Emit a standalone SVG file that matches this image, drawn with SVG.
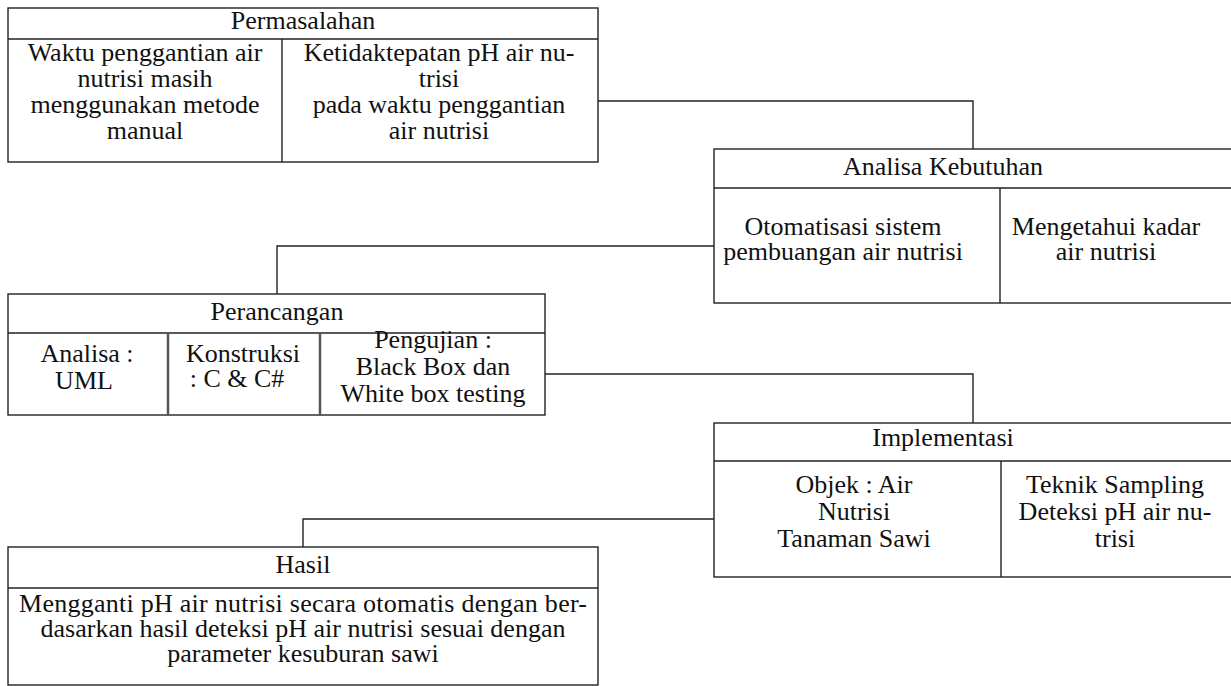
<svg xmlns="http://www.w3.org/2000/svg" width="1231" height="686" viewBox="0 0 1231 686">
<style>
.box{fill:#fff;stroke:#222;stroke-width:1.4}
.ln{stroke:#222;stroke-width:1.4;fill:none}
.div2{stroke:#555;stroke-width:2.5;fill:none}
text{font-family:"Liberation Serif","Times New Roman",serif;font-size:26px;fill:#111;text-anchor:middle}
</style>
<rect width="1231" height="686" fill="#fff"/>
<g id="connectors">
<polyline class="ln" points="598,101 973,101 973,149"/>
<polyline class="ln" points="714,246 277,246 277,294"/>
<polyline class="ln" points="545,374 973,374 973,423"/>
<polyline class="ln" points="714,519 303,519 303,547"/>
</g>
<g id="permasalahan">
<rect class="box" x="8" y="8" width="590" height="154"/>
<line class="ln" x1="8" y1="39" x2="598" y2="39"/>
<line class="ln" x1="282" y1="39" x2="282" y2="162"/>
<text x="303" y="29">Permasalahan</text>
<text x="145" y="61">Waktu penggantian air</text>
<text x="145" y="87">nutrisi masih</text>
<text x="145" y="113">menggunakan metode</text>
<text x="145" y="139">manual</text>
<text x="439" y="61">Ketidaktepatan pH air nu-</text>
<text x="439" y="87">trisi</text>
<text x="439" y="113">pada waktu penggantian</text>
<text x="439" y="139">air nutrisi</text>
</g>
<g id="analisa">
<rect class="box" x="714" y="149" width="520" height="154"/>
<line class="ln" x1="714" y1="188" x2="1231" y2="188"/>
<line class="ln" x1="1000" y1="188" x2="1000" y2="303"/>
<text x="943" y="175">Analisa Kebutuhan</text>
<text x="843" y="235">Otomatisasi sistem</text>
<text x="843" y="260">pembuangan air nutrisi</text>
<text x="1106" y="235">Mengetahui kadar</text>
<text x="1106" y="260">air nutrisi</text>
</g>
<g id="perancangan">
<rect class="box" x="8" y="294" width="537" height="121"/>
<line class="ln" x1="8" y1="333" x2="545" y2="333"/>
<line class="div2" x1="168" y1="333" x2="168" y2="415"/>
<line class="div2" x1="320" y1="333" x2="320" y2="415"/>
<text x="277" y="320">Perancangan</text>
<text x="87" y="362">Analisa :</text>
<text x="84" y="389">UML</text>
<text x="243" y="362">Konstruksi</text>
<text x="237" y="387">: C &amp; C#</text>
<text x="433" y="348">Pengujian :</text>
<text x="433" y="375">Black Box dan</text>
<text x="433" y="402">White box testing</text>
</g>
<g id="implementasi">
<rect class="box" x="714" y="423" width="520" height="154"/>
<line class="ln" x1="714" y1="461" x2="1231" y2="461"/>
<line class="ln" x1="1001" y1="461" x2="1001" y2="577"/>
<text x="943" y="446">Implementasi</text>
<text x="854" y="493">Objek : Air</text>
<text x="854" y="520">Nutrisi</text>
<text x="854" y="547">Tanaman Sawi</text>
<text x="1115" y="493">Teknik Sampling</text>
<text x="1115" y="520">Deteksi pH air nu-</text>
<text x="1115" y="547">trisi</text>
</g>
<g id="hasil">
<rect class="box" x="8" y="547" width="590" height="138"/>
<line class="ln" x1="8" y1="588" x2="598" y2="588"/>
<text x="303" y="573">Hasil</text>
<text x="303" y="612" textLength="568" lengthAdjust="spacing">Mengganti pH air nutrisi secara otomatis dengan ber-</text>
<text x="303" y="637">dasarkan hasil deteksi pH air nutrisi sesuai dengan</text>
<text x="303" y="662">parameter kesuburan sawi</text>
</g>
</svg>
